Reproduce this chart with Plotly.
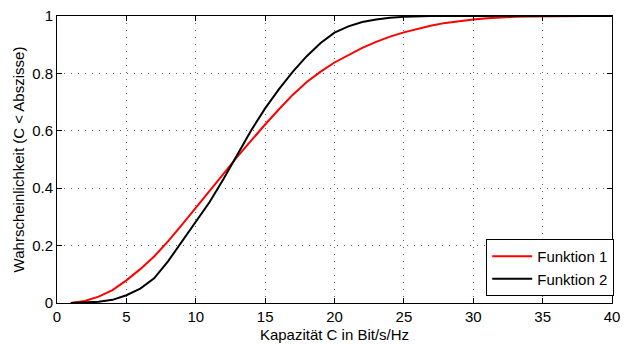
import plotly.graph_objects as go

# Capacity values (Bit/s/Hz) at which both CDFs are sampled
kapazitaet = list(range(1, 41))

# Empirical CDF values, Funktion 1 (red)
funktion_1 = [
    0.000, 0.007, 0.022, 0.045, 0.079, 0.118, 0.162, 0.215, 0.272, 0.330,
    0.390, 0.450, 0.510, 0.567, 0.622, 0.675, 0.726, 0.770, 0.806, 0.838,
    0.865, 0.889, 0.910, 0.928, 0.943, 0.956, 0.967, 0.976, 0.983, 0.988,
    0.992, 0.995, 0.997, 0.998, 0.999, 1.000, 1.000, 1.000, 1.000, 1.000,
]

# Empirical CDF values, Funktion 2 (black)
funktion_2 = [
    0.000, 0.001, 0.004, 0.011, 0.027, 0.050, 0.086, 0.145, 0.213, 0.280,
    0.352, 0.432, 0.518, 0.602, 0.678, 0.745, 0.806, 0.860, 0.906, 0.942,
    0.964, 0.979, 0.988, 0.994, 0.997, 0.999, 1.000, 1.000, 1.000, 1.000,
    1.000, 1.000, 1.000, 1.000, 1.000, 1.000, 1.000, 1.000, 1.000, 1.000,
]

x_ticks = [0, 5, 10, 15, 20, 25, 30, 35, 40]
y_ticks = [0, 0.2, 0.4, 0.6, 0.8, 1]
y_tick_text = ["0", "0.2", "0.4", "0.6", "0.8", "1"]

FONT = "Liberation Sans, Arial, sans-serif"
FS = 15

fig = go.Figure()
fig.add_trace(go.Scatter(x=kapazitaet, y=funktion_1, mode="lines",
                         name="Funktion 1", line=dict(color="#ff0000", width=2)))
fig.add_trace(go.Scatter(x=kapazitaet, y=funktion_2, mode="lines",
                         name="Funktion 2", line=dict(color="#000000", width=2)))

axis_common = dict(
    showline=True, linecolor="black", linewidth=1, mirror="ticks",
    ticks="inside", ticklen=5, tickcolor="black", tickwidth=1,
    showgrid=True, gridcolor="rgba(0,0,0,0.6)", gridwidth=1, griddash="1px,6px",
    zeroline=False, tickfont=dict(family=FONT, size=FS, color="black"),
    ticklabeloverflow="allow",
)

fig.update_xaxes(range=[0, 40], tickvals=x_ticks,
                 title=dict(text="Kapazität C in Bit/s/Hz", standoff=5,
                            font=dict(family=FONT, size=FS, color="black")),
                 **axis_common)
fig.update_yaxes(range=[0, 1], tickvals=y_ticks, ticktext=y_tick_text,
                 title=dict(text="Wahrscheinlichkeit (C < Abszisse)", standoff=3,
                            font=dict(family=FONT, size=FS, color="black")),
                 **axis_common)

fig.update_layout(
    width=627, height=348,
    margin=dict(l=57, r=7, t=11, b=44),
    plot_bgcolor="white", paper_bgcolor="white",
    font=dict(family=FONT, size=FS, color="black"),
    legend=dict(x=1.004, y=0.024, xanchor="right", yanchor="bottom",
                bgcolor="white", bordercolor="black", borderwidth=1,
                font=dict(family=FONT, size=FS, color="black"),
                tracegroupgap=0, itemwidth=40),
    showlegend=True,
)

fig.write_html("out.html")
